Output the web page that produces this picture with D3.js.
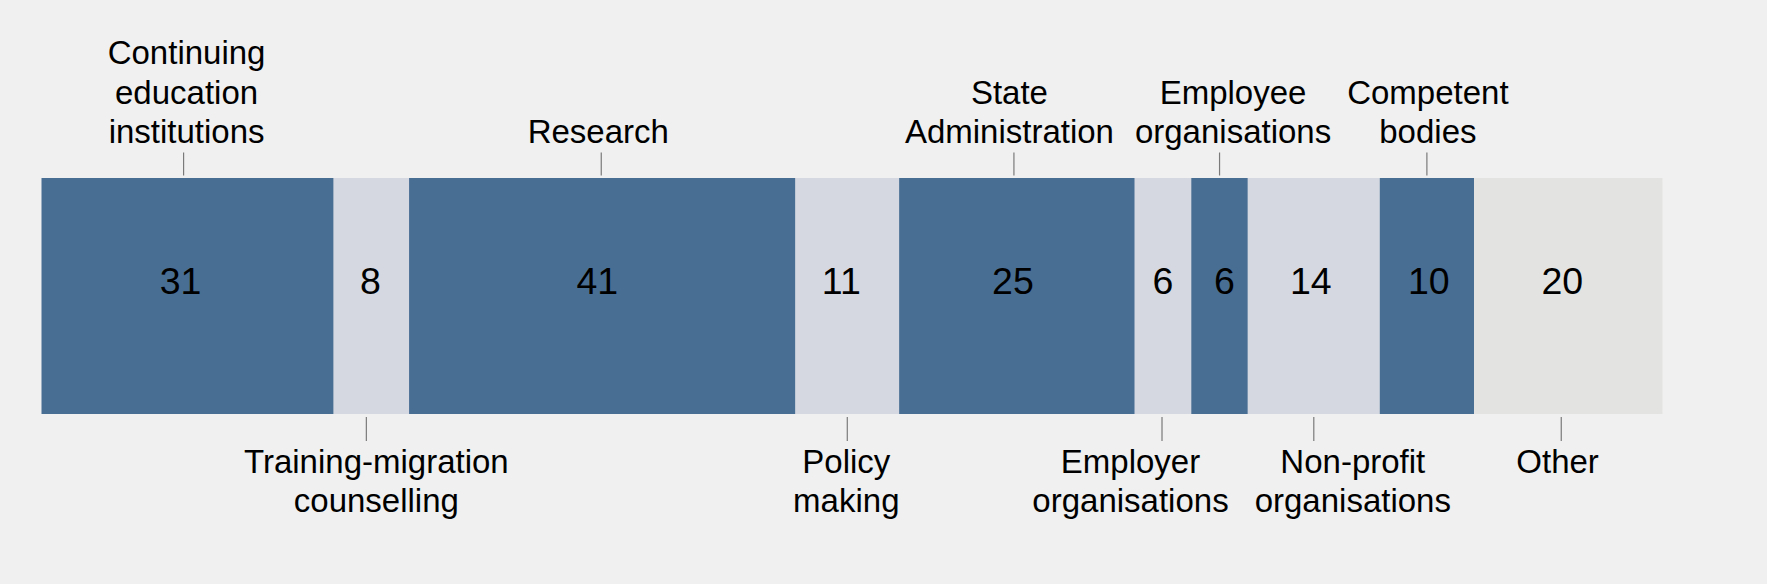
<!DOCTYPE html>
<html>
<head>
<meta charset="utf-8">
<script src="https://cdn.jsdelivr.net/npm/d3@7"></script>
<style>
  html, body { margin: 0; padding: 0; background: #f0f0f0; }
  svg { display: block; }
  text { font-family: "Liberation Sans", Arial, sans-serif; fill: #000; }
</style>
</head>
<body>
<svg id="chart" width="1767" height="584"></svg>
<script>
// ---- data ----
const categories = [
  "Continuing education institutions",
  "Training-migration counselling",
  "Research",
  "Policy making",
  "State Administration",
  "Employer organisations",
  "Employee organisations",
  "Non-profit organisations",
  "Competent bodies",
  "Other"
];
const labelLines = [
  ["Continuing", "education", "institutions"],
  ["Training-migration", "counselling"],
  ["Research"],
  ["Policy", "making"],
  ["State", "Administration"],
  ["Employer", "organisations"],
  ["Employee", "organisations"],
  ["Non-profit", "organisations"],
  ["Competent", "bodies"],
  ["Other"]
];
const values = [31, 8, 41, 11, 25, 6, 6, 14, 10, 20];
const colorGroup = ["dark", "light", "dark", "light", "dark", "light", "dark", "light", "dark", "other"];
const labelSide = ["top", "bottom", "top", "bottom", "top", "bottom", "top", "bottom", "top", "bottom"];

// ---- layout (pixel nudges, not data) ----
const labelDx = [-1, 5, -4, -1, -7.5, -32.5, 13.5, 39, 1, -10.7];
const tickDx  = [-4, -5, -1, 0, -3, -1, 0, 0, 0, -7];
const numDx   = [-7, -1, -5, -6, -4, 0, 5, -3, 2, -6];
const colors = { dark: "#496e93", light: "#d5d8e1", other: "#e3e3e2" };

const svg = d3.select("#chart");
const total = d3.sum(values);
const starts = [];
values.reduce((acc, v, i) => { starts[i] = acc; return acc + v; }, 0);

const x = d3.scaleLinear().domain([0, total]).range([41.5, 1662.5]);
const y = d3.scaleLinear().domain([0, 1]).range([178, 414]);

const data = values.map((v, i) => ({
  i, v, start: starts[i], end: starts[i] + v,
  cat: categories[i], lines: labelLines[i], side: labelSide[i], group: colorGroup[i]
}));

// bars
svg.append("g").selectAll("rect").data(data).join("rect")
  .attr("x", d => x(d.start))
  .attr("y", y(0))
  .attr("width", d => x(d.end) - x(d.start))
  .attr("height", y(1) - y(0))
  .attr("fill", d => colors[d.group]);

// values
svg.append("g").selectAll("text").data(data).join("text")
  .attr("x", d => (x(d.start) + x(d.end)) / 2 + numDx[d.i])
  .attr("y", 294.3)
  .attr("text-anchor", "middle")
  .style("font-size", "37.5px")
  .text(d => d.v);

// ticks
svg.append("g").selectAll("line").data(data).join("line")
  .attr("x1", d => (x(d.start) + x(d.end)) / 2 + tickDx[d.i])
  .attr("x2", d => (x(d.start) + x(d.end)) / 2 + tickDx[d.i])
  .attr("y1", d => d.side === "top" ? 152.5 : 417)
  .attr("y2", d => d.side === "top" ? 175.5 : 441)
  .attr("stroke", "#7a7a7a")
  .attr("stroke-width", 1.2);

// category labels
const lineH = 39.5;
const lbl = svg.append("g").selectAll("text").data(data).join("text")
  .attr("text-anchor", "middle")
  .style("font-size", "33px")
  .attr("transform", d => {
    const cx = (x(d.start) + x(d.end)) / 2 + labelDx[d.i];
    const y0 = d.side === "top" ? 143.3 - (d.lines.length - 1) * lineH : 472.7;
    return `translate(${cx},${y0})`;
  });
lbl.selectAll("tspan").data(d => d.lines).join("tspan")
  .attr("x", 0)
  .attr("dy", (t, j) => j === 0 ? 0 : lineH)
  .text(t => t);
</script>
</body>
</html>
